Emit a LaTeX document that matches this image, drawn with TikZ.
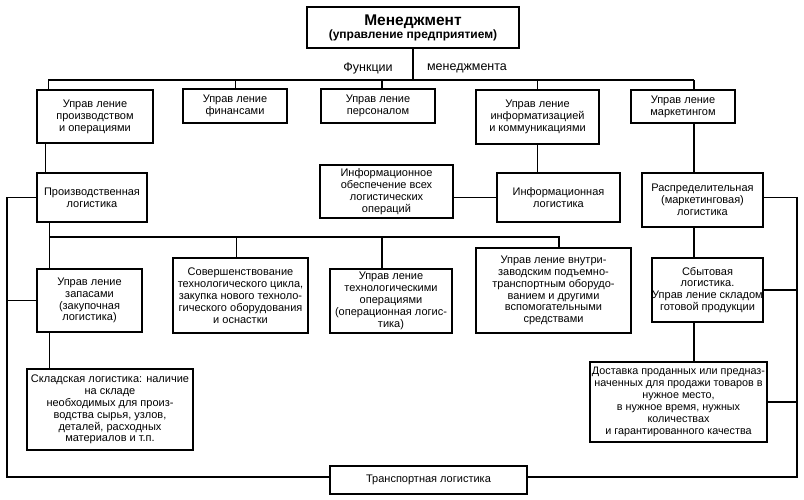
\documentclass[tikz,border=0pt]{standalone}
\usepackage{fontspec}
\setmainfont{Liberation Sans}
\newcommand\bx[7][]{\node[box, #1, minimum width={(#5-#3)*1pt}, minimum height={(#6-#4)*1pt}] (#2) at ({(#3+#5)/2},{(#4+#6)/2}) {#7};}
\begin{document}
\begin{tikzpicture}[x=1pt,y=-1pt,
  box/.style={draw, line width=1.8pt, align=center, inner sep=0pt, font=\fontsize{11}{12}\selectfont},
  lowbox/.style={font=\fontsize{11}{11.9}\selectfont},
  thickline/.style={line width=1.8pt},
  thinline/.style={line width=0.9pt},
  lbl/.style={font=\fontsize{12.5}{14}\selectfont, inner sep=0pt}]
\useasboundingbox (0,0) rectangle (804,500);

% boxes
\bx{top}{307}{7}{519}{48}{{\fontsize{15.5}{17}\selectfont\bfseries Менеджмент}\\[1pt]{\fontsize{12}{13}\selectfont\bfseries (управление предприятием)}}
\bx{B1}{37}{90}{153}{143}{Управ ление\\производством\\и операциями}
\bx{B2}{183}{89}{287}{123}{Управ ление\\финансами}
\bx{B3}{321}{89}{435}{123}{Управ ление\\персоналом}
\bx{B4}{476}{90}{599}{144}{Управ ление\\информатизацией\\и коммуникациями}
\bx{B5}{631}{90}{735}{123}{Управ ление\\маркетингом}

\bx[lowbox]{Prod}{37}{173}{147}{222}{Производственная\\логистика}
\bx[lowbox]{IO}{320}{165}{453}{218}{Информационное\\обеспечение всех\\логистических\\операций}
\bx[lowbox]{IL}{497}{173}{620}{222}{Информационная\\логистика}
\bx[lowbox]{Rasp}{642}{173}{763}{227}{Распределительная\\(маркетинговая)\\логистика}

\bx[lowbox]{Zap}{37}{269}{142}{332}{Управ ление\\запасами\\(закупочная\\логистика)}
\bx[lowbox]{Sov}{173}{258}{308}{333}{Совершенствование\\технологического цикла,\\закупка нового техноло-\\гического оборудования\\и оснастки}
\bx[lowbox]{Tech}{330}{269}{452}{333}{Управ ление\\технологическими\\операциями\\(операционная логис-\\тика)}
\bx[lowbox]{Vn}{476}{248}{631}{333}{Управ ление внутри-\\заводским подъемно-\\транспортным оборудо-\\ванием и другими\\вспомогательными\\средствами}
\bx[lowbox]{Sbyt}{652}{258}{763}{322}{Сбытовая\\логистика.\\Управ ление складом\\готовой продукции}

\bx[lowbox]{Sklad}{27}{369}{193}{450}{Складская логистика: наличие\\на складе\\необходимых для произ-\\водства сырья, узлов,\\деталей, расходных\\материалов и т.п.}
\bx[font=\fontsize{10.8}{11.9}\selectfont]{Dost}{590}{362}{767}{442}{Доставка проданных или предназ-\\наченных для продажи товаров в\\нужное место,\\в нужное время, нужных\\количествах\\и гарантированного качества}
\bx[font=\fontsize{11}{12}\selectfont]{Trans}{330}{466}{527}{494}{Транспортная логистика}

% labels
\node[lbl] (f1) at (368,68) {Функции};
\node[lbl] (f2) at (467,68) {менеджмента};

% coordinates
\coordinate (busL) at (48,80);
\coordinate (busR) at (694,80);
\coordinate (d3) at (382,80);
\coordinate (px) at (45,0);
\coordinate (lx) at (7,0);
\coordinate (rv) at (797,0);
\coordinate (ty) at (0,477);
\coordinate (ry) at (0,197);
\coordinate (pb1) at (49,237);
\coordinate (pb2) at (559,237);
\coordinate (ps) at (236,237);
\coordinate (pt) at (382,237);

% management bus
\draw[thickline] (top.south) -- (top.south |- busL);
\draw[thickline] (busL) -- (busR);
\draw[thinline] (busL) -- (B1.north -| busL);
\draw[thinline] (B2.north |- busL) -- (B2.north);
\draw[thickline] (d3) -- (B3.north -| d3);
\draw[thickline] (B4.north |- busL) -- (B4.north);
\draw[thickline] (busR) -- (B5.north -| busR);

% second row
\draw[thinline] (B1.south -| px) -- (Prod.north -| px);
\draw[thickline] (B4.south) -- (IL.north -| B4.south);
\draw[thickline] (B5.south -| busR) -- (Rasp.north -| busR);
\draw[thinline] (IL.west -| IO.east) -- (IL.west);

% left loop
\draw[thinline] (Prod.west) -- (Prod.west -| lx);
\draw[thickline] (Prod.west -| lx) -- (lx |- ty) -- (Trans.west |- ty);
\draw[thickline] (Zap.west -| lx) -- (Zap.west);

% production branch
\draw[thinline] (Prod.south -| pb1) -- (Zap.north -| pb1);
\draw[thickline] (pb1) -- (pb2) -- (Vn.north -| pb2);
\draw[thinline] (ps) -- (Sov.north -| ps);
\draw[thickline] (pt) -- (Tech.north -| pt);
\draw[thinline] (Zap.south -| pb1) -- (Sklad.north -| pb1);

% right loop
\draw[thinline] (Rasp.east |- ry) -- (rv |- ry);
\draw[thickline] (rv |- ry) -- (rv |- ty) -- (Trans.east |- ty);
\draw[thickline] (Rasp.south -| busR) -- (Sbyt.north -| busR);
\draw[thickline] (Sbyt.south -| busR) -- (Dost.north -| busR);
\draw[thickline] (Sbyt.east) -- (Sbyt.east -| rv);
\draw[thickline] (Dost.east) -- (Dost.east -| rv);
\end{tikzpicture}
\end{document}
